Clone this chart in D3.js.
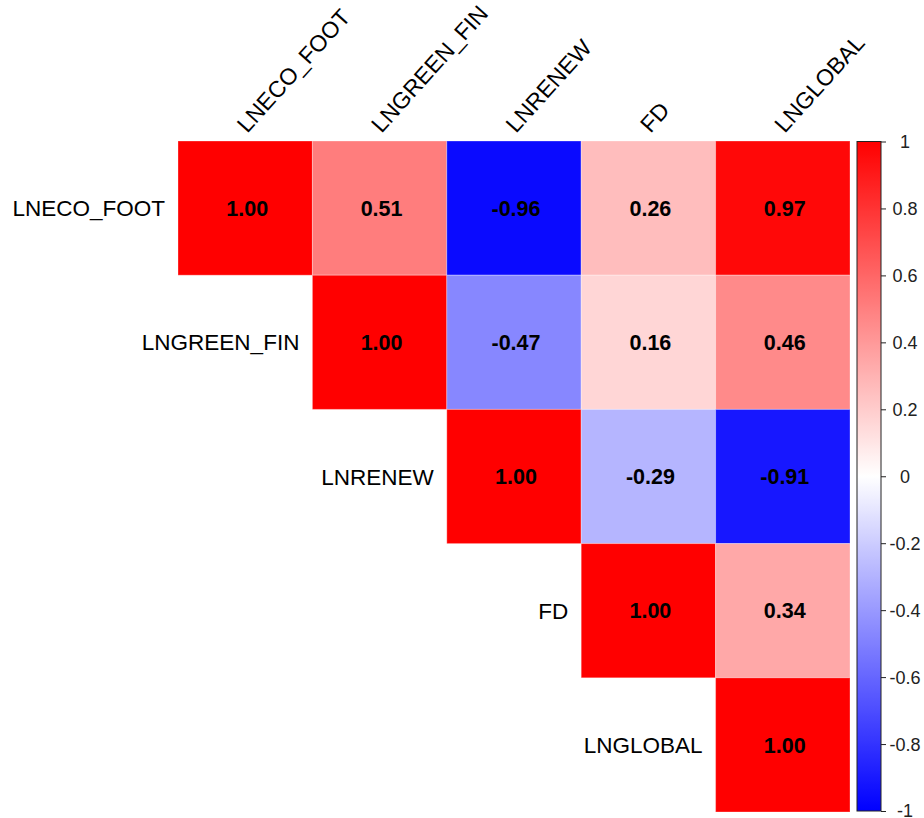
<!DOCTYPE html>
<html>
<head>
<meta charset="utf-8">
<script src="https://cdn.jsdelivr.net/npm/d3@7"></script>
<style>
  body { margin: 0; background: #fff; }
  text { font-family: "Liberation Sans", Arial, sans-serif; }
</style>
</head>
<body>
<svg id="svg" width="924" height="818"></svg>
<script>
var vars = ["LNECO_FOOT", "LNGREEN_FIN", "LNRENEW", "FD", "LNGLOBAL"];
// correlation matrix, row by row
var r0 = [1.00, 0.51, -0.96, 0.26, 0.97];
var r1 = [0.51, 1.00, -0.47, 0.16, 0.46];
var r2 = [-0.96, -0.47, 1.00, -0.29, -0.91];
var r3 = [0.26, 0.16, -0.29, 1.00, 0.34];
var r4 = [0.97, 0.46, -0.91, 0.34, 1.00];
var rows = [r0, r1, r2, r3, r4];
var legendTicks = [-1, -0.8, -0.6, -0.4, -0.2, 0, 0.2, 0.4, 0.6, 0.8, 1];

var svg = d3.select("#svg");

var x = d3.scaleBand().domain(vars).range([178, 850]);
var y = d3.scaleBand().domain(vars).range([141, 812]);
var color = d3.scaleLinear().domain([-1, 0, 1]).range(["#0000ff", "#ffffff", "#ff0000"]);

// upper triangle cells
var cells = [];
rows.forEach(function(r, i) {
  r.forEach(function(v, j) {
    if (j >= i) cells.push({row: vars[i], col: vars[j], v: v});
  });
});

svg.selectAll("rect.cell").data(cells).enter().append("rect")
  .attr("class", "cell")
  .attr("x", function(d) { return x(d.col); })
  .attr("y", function(d) { return y(d.row); })
  .attr("width", x.bandwidth())
  .attr("height", y.bandwidth())
  .attr("fill", function(d) { return color(d.v); })
  .attr("stroke", "#ffffff")
  .attr("stroke-opacity", 0.3)
  .attr("stroke-width", 1);

svg.selectAll("text.val").data(cells).enter().append("text")
  .attr("class", "val")
  .attr("x", function(d) { return x(d.col) + x.bandwidth() / 2 + 2; })
  .attr("y", function(d) { return y(d.row) + y.bandwidth() / 2; })
  .attr("dy", "0.36em")
  .attr("text-anchor", "middle")
  .attr("font-size", 21.5)
  .attr("font-weight", "bold")
  .attr("fill", "#000")
  .text(function(d) { return d.v.toFixed(2); });

// row labels, next to the diagonal
svg.selectAll("text.rowlab").data(vars).enter().append("text")
  .attr("class", "rowlab")
  .attr("x", function(d) { return x(d) - 13; })
  .attr("y", function(d) { return y(d) + y.bandwidth() / 2; })
  .attr("dy", "0.36em")
  .attr("text-anchor", "end")
  .attr("font-size", 22.5)
  .attr("fill", "#000")
  .text(function(d) { return d; });

// column labels, rotated
svg.selectAll("text.collab").data(vars).enter().append("text")
  .attr("class", "collab")
  .attr("transform", function(d) {
    return "translate(" + (x(d) + x.bandwidth() / 2 + 2) + ",134) rotate(-48)";
  })
  .attr("text-anchor", "start")
  .attr("font-size", 23)
  .attr("fill", "#000")
  .text(function(d) { return d; });

// colour legend
var ly = d3.scaleLinear().domain([-1, 1]).range([811, 141.5]);
var grad = svg.append("defs").append("linearGradient")
  .attr("id", "lg").attr("x1", 0).attr("y1", 1).attr("x2", 0).attr("y2", 0);
grad.selectAll("stop").data(d3.range(0, 201)).enter().append("stop")
  .attr("offset", function(d) { return d / 200; })
  .attr("stop-color", function(d) { return color(-1 + d / 100); });

svg.append("rect")
  .attr("x", 857).attr("y", ly(1))
  .attr("width", 24).attr("height", ly(-1) - ly(1))
  .attr("fill", "url(#lg)")
  .attr("stroke", "#222").attr("stroke-width", 1);

var axis = svg.append("g")
  .attr("transform", "translate(881,0)")
  .call(d3.axisRight(ly).tickValues(legendTicks).tickSize(5).tickFormat(""));
axis.select(".domain").remove();
axis.selectAll("line").attr("stroke", "#222");

svg.selectAll("text.ltick").data(legendTicks).enter().append("text")
  .attr("class", "ltick")
  .attr("x", 905)
  .attr("y", function(d) { return ly(d); })
  .attr("dy", "0.36em")
  .attr("text-anchor", "middle")
  .attr("font-size", 18)
  .attr("fill", "#222")
  .text(function(d) { return String(d); });
</script>
</body>
</html>
